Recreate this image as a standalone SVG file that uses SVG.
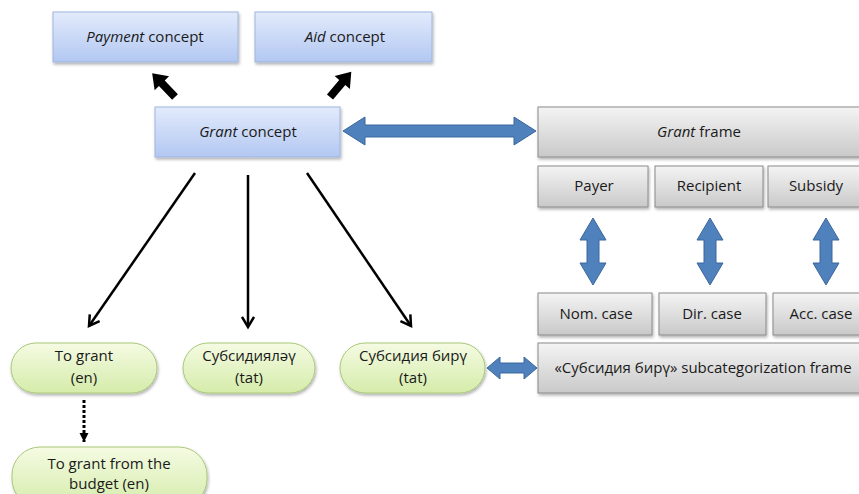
<svg xmlns="http://www.w3.org/2000/svg" width="859" height="494" viewBox="0 0 859 494">
<defs>
<linearGradient id="gBlue" x1="0" y1="0" x2="0" y2="1"><stop offset="0" stop-color="#e3ebfc"/><stop offset="1" stop-color="#b2c7f2"/></linearGradient>
<linearGradient id="gGray" x1="0" y1="0" x2="0" y2="1"><stop offset="0" stop-color="#f4f4f4"/><stop offset="1" stop-color="#c9c9c9"/></linearGradient>
<linearGradient id="gGreen" x1="0" y1="0" x2="0" y2="1"><stop offset="0" stop-color="#f5fbe3"/><stop offset="1" stop-color="#d5ecaa"/></linearGradient>
<filter id="sh" x="-10%" y="-10%" width="130%" height="140%"><feDropShadow dx="1" dy="2" stdDeviation="1.5" flood-color="#000" flood-opacity="0.3"/></filter>
<marker id="open" markerWidth="14" markerHeight="14" viewBox="0 0 14 14" refX="11" refY="7" orient="auto" markerUnits="userSpaceOnUse"><polyline points="1,1 11,7 1,13" fill="none" stroke="#000" stroke-width="2.5"/></marker>
<marker id="dot" markerWidth="10" markerHeight="10" viewBox="0 0 10 10" refX="9" refY="5" orient="auto" markerUnits="userSpaceOnUse"><path d="M0,0.5 L9,5 L0,9.5 Z" fill="#000"/></marker>
</defs>
<style>
.blue{fill:url(#gBlue);stroke:#9fb5dd;stroke-width:1;filter:url(#sh)}
.gray{fill:url(#gGray);stroke:#8a8a8a;stroke-width:1;filter:url(#sh)}
.green{fill:url(#gGreen);stroke:#a9c878;stroke-width:1;filter:url(#sh)}
text{font-family:"Open Sans","Liberation Sans",sans-serif;font-size:15px;fill:#1a1a1a;text-anchor:middle}
.ba{fill:#4f81bd;stroke:#3b679c;stroke-width:1}
.conn{stroke:#000;stroke-width:2.5;fill:none}
</style>

<g id="payment"><rect class="blue" x="53" y="12" width="185" height="50"/><text x="145" y="42"><tspan font-style="italic">Payment</tspan> concept</text></g>
<g id="aid"><rect class="blue" x="255" y="12" width="177" height="50"/><text x="345" y="42"><tspan font-style="italic">Aid</tspan> concept</text></g>
<g id="grant"><rect class="blue" x="155" y="107" width="185" height="50"/><text x="248" y="137"><tspan font-style="italic">Grant</tspan> concept</text></g>

<g id="grantframe"><rect class="gray" x="538" y="107" width="325" height="50"/><text x="699" y="137"><tspan font-style="italic">Grant</tspan> frame</text></g>
<g id="payer"><rect class="gray" x="538" y="166" width="110" height="41"/><text x="594" y="191">Payer</text></g>
<g id="recipient"><rect class="gray" x="655" y="166" width="108" height="41"/><text x="709" y="191">Recipient</text></g>
<g id="subsidy"><rect class="gray" x="768" y="166" width="95" height="41"/><text x="816" y="191">Subsidy</text></g>
<g id="nom"><rect class="gray" x="538" y="293" width="114" height="42"/><text x="596" y="319">Nom. case</text></g>
<g id="dir"><rect class="gray" x="659" y="293" width="107" height="42"/><text x="712" y="319">Dir. case</text></g>
<g id="acc"><rect class="gray" x="773" y="293" width="90" height="42"/><text x="821" y="319">Acc. case</text></g>
<g id="subcat"><rect class="gray" x="538" y="343" width="325" height="50"/><text x="703" y="373">«Субсидия бирү» subcategorization frame</text></g>

<g id="tograntEn"><rect class="green" x="11" y="343" width="146" height="50" rx="25"/><text x="84" y="361">To grant</text><text x="84" y="383">(en)</text></g>
<g id="subsidiyalau"><rect class="green" x="183" y="343" width="132" height="50" rx="25"/><text x="249" y="361">Субсидияләү</text><text x="249" y="383">(tat)</text></g>
<g id="subsidiyabiru"><rect class="green" x="340" y="343" width="145" height="50" rx="25"/><text x="413" y="361">Субсидия бирү</text><text x="413" y="383">(tat)</text></g>
<g id="budget"><rect class="green" x="12" y="447" width="195" height="60" rx="28"/><text x="109" y="469">To grant from the</text><text x="109" y="489">budget (en)</text></g>

<g id="connectors">
<g transform="translate(175,97) rotate(-133.8)"><path d="M0,-4 L19,-4 L19,-10 L33,0 L19,10 L19,4 L0,4 Z" fill="#000"/></g>
<g transform="translate(330,97) rotate(-49.8)"><path d="M0,-4 L19,-4 L19,-10 L33,0 L19,10 L19,4 L0,4 Z" fill="#000"/></g>
<path class="ba" d="M343,131 L365,117 L365,125 L514,125 L514,117 L536,131 L514,145 L514,137 L365,137 L365,145 Z"/>
<path class="ba" d="M593,218 L606,240 L599,240 L599,263 L606,263 L593,285 L580,263 L587,263 L587,240 L580,240 Z"/>
<path class="ba" d="M710,218 L723,240 L716,240 L716,263 L723,263 L710,285 L697,263 L704,263 L704,240 L697,240 Z"/>
<path class="ba" d="M826,218 L839,240 L832,240 L832,263 L839,263 L826,285 L813,263 L820,263 L820,240 L813,240 Z"/>
<path class="ba" d="M487,368 L500,357 L500,363 L524,363 L524,357 L537,368 L524,379 L524,373 L500,373 L500,379 Z"/>
<line class="conn" x1="195" y1="173" x2="89" y2="326" marker-end="url(#open)"/>
<line class="conn" x1="248" y1="175" x2="248" y2="327" marker-end="url(#open)"/>
<line class="conn" x1="307" y1="173" x2="411" y2="326" marker-end="url(#open)"/>
<line x1="84" y1="400" x2="84" y2="442" stroke="#000" stroke-width="3" stroke-dasharray="3,2" marker-end="url(#dot)"/>
</g>
</svg>
